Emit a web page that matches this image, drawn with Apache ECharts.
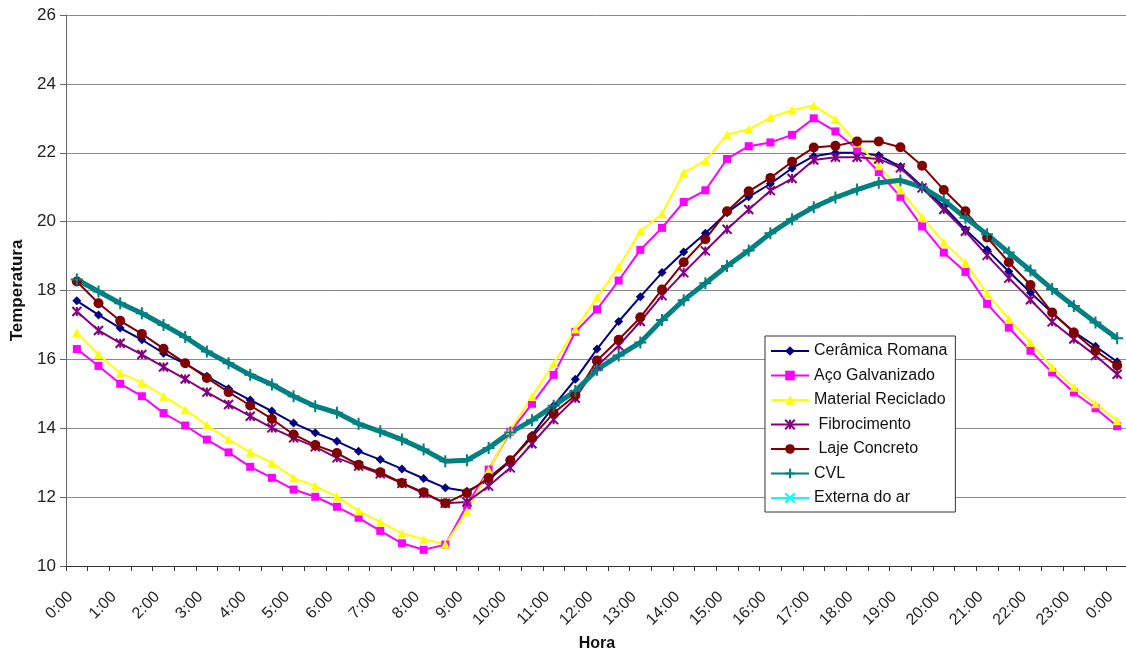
<!DOCTYPE html>
<html>
<head>
<meta charset="utf-8">
<script src="https://cdn.jsdelivr.net/npm/echarts@6/dist/echarts.min.js"></script>
<style>
html,body{margin:0;padding:0;background:#ffffff;}
#chart{width:1126px;height:650px;}
</style>
</head>
<body>
<div id="chart"></div>
<script>
const hours = ["0:00","0:30","1:00","1:30","2:00","2:30","3:00","3:30","4:00","4:30","5:00","5:30",
  "6:00","6:30","7:00","7:30","8:00","8:30","9:00","9:30","10:00","10:30","11:00","11:30",
  "12:00","12:30","13:00","13:30","14:00","14:30","15:00","15:30","16:00","16:30","17:00","17:30",
  "18:00","18:30","19:00","19:30","20:00","20:30","21:00","21:30","22:00","22:30","23:00","23:30","0:00"];

const ceramicaRomana = [17.70,17.29,16.91,16.57,16.18,15.87,15.51,15.15,14.82,14.50,14.15,13.87,
  13.62,13.33,13.09,12.82,12.54,12.27,12.17,12.50,13.05,13.80,14.65,15.42,
  16.30,17.10,17.82,18.52,19.12,19.66,20.26,20.72,21.10,21.55,21.90,22.00,
  22.00,21.92,21.60,21.02,20.44,19.77,19.18,18.55,17.94,17.35,16.80,16.38,15.93];

const acoGalvanizado = [16.30,15.81,15.29,14.93,14.44,14.08,13.67,13.30,12.88,12.56,12.22,12.01,
  11.72,11.40,11.02,10.66,10.47,10.62,11.77,12.80,13.90,14.71,15.55,16.80,
  17.45,18.29,19.18,19.82,20.57,20.91,21.82,22.19,22.30,22.52,23.00,22.62,
  22.10,21.44,20.72,19.86,19.10,18.54,17.61,16.92,16.25,15.62,15.04,14.58,14.06];

const materialReciclado = [16.78,16.14,15.60,15.33,14.93,14.54,14.09,13.67,13.30,13.00,12.56,12.32,
  12.02,11.60,11.28,10.95,10.78,10.63,11.58,12.78,13.95,14.92,15.88,16.88,
  17.80,18.68,19.72,20.23,21.42,21.77,22.53,22.68,23.02,23.24,23.37,22.97,
  22.28,21.62,20.92,20.13,19.40,18.81,17.91,17.17,16.49,15.77,15.19,14.71,14.22];

const fibrocimento = [17.39,16.84,16.47,16.14,15.78,15.43,15.05,14.69,14.35,14.01,13.72,13.46,
  13.14,12.90,12.68,12.40,12.11,11.82,11.86,12.32,12.85,13.55,14.25,14.87,
  15.80,16.40,17.10,17.85,18.52,19.15,19.78,20.35,20.90,21.25,21.79,21.87,
  21.87,21.82,21.56,20.98,20.35,19.72,19.02,18.36,17.73,17.09,16.59,16.11,15.57];

const lajeConcreto = [18.26,17.63,17.12,16.74,16.31,15.89,15.46,15.05,14.66,14.27,13.82,13.51,
  13.28,12.94,12.72,12.41,12.14,11.82,12.12,12.56,13.07,13.74,14.44,14.95,
  15.97,16.57,17.22,18.03,18.82,19.49,20.30,20.88,21.27,21.74,22.15,22.20,
  22.33,22.33,22.16,21.62,20.92,20.30,19.54,18.82,18.16,17.36,16.78,16.25,15.82];

const cvl = [18.32,17.97,17.63,17.34,17.00,16.65,16.23,15.89,15.55,15.27,14.93,14.64,
  14.45,14.13,13.91,13.67,13.38,13.04,13.07,13.43,13.88,14.23,14.65,15.08,
  15.70,16.11,16.49,17.14,17.72,18.21,18.71,19.16,19.66,20.07,20.42,20.70,
  20.93,21.13,21.20,21.00,20.62,20.11,19.63,19.10,18.58,18.04,17.55,17.07,16.61];

const externaDoAr = [];

const seriesNames = ["Cerâmica Romana","Aço Galvanizado","Material Reciclado"," Fibrocimento"," Laje Concreto","CVL","Externa do ar"];

const yTicks = { min: 10, max: 26, step: 2 };

const FONT = "'Liberation Sans', Arial, sans-serif";

const chart = echarts.init(document.getElementById('chart'), null, { renderer: 'canvas' });

function mkSeries(name, data, color, symbol, size, lw, extraItem) {
  return {
    name: name,
    type: 'line',
    data: data,
    symbol: symbol,
    symbolSize: size,
    showSymbol: true,
    showAllSymbol: true,
    lineStyle: { color: color, width: lw },
    itemStyle: Object.assign({ color: color, borderWidth: 0, opacity: 1 }, extraItem || {}),
    emphasis: { disabled: true },
    animation: false
  };
}

const option = {
  backgroundColor: '#ffffff',
  animation: false,
  textStyle: { fontFamily: FONT },
  grid: { left: 66, top: 15, width: 1062, height: 551, containLabel: false, outerBoundsMode: 'none' },
  xAxis: {
    type: 'category',
    data: hours,
    boundaryGap: true,
    name: 'Hora',
    nameLocation: 'middle',
    nameGap: 66,
    nameTextStyle: { fontFamily: FONT, fontSize: 16, fontWeight: 'bold', color: '#111' },
    axisLine: { show: true, lineStyle: { color: '#333', width: 1 } },
    axisTick: { show: true, interval: 0, alignWithLabel: false, length: 5, lineStyle: { color: '#333' } },
    axisLabel: { interval: 1, rotate: 45, margin: 22, padding: [0, 9, 0, 0], fontFamily: FONT, fontSize: 16, color: '#222' },
    splitLine: { show: false }
  },
  yAxis: {
    type: 'value',
    min: yTicks.min,
    max: yTicks.max,
    interval: yTicks.step,
    name: 'Temperatura',
    nameLocation: 'middle',
    nameGap: 40,
    nameRotate: 90,
    nameTextStyle: { fontFamily: FONT, fontSize: 17, fontWeight: 'bold', color: '#111' },
    axisLine: { show: true, lineStyle: { color: '#666', width: 1 } },
    axisTick: { show: true, length: 6, inside: false, lineStyle: { color: '#666' } },
    axisLabel: { margin: 10, fontFamily: FONT, fontSize: 17, color: '#222' },
    splitLine: { show: true, lineStyle: { color: '#8c8c8c', width: 1 } }
  },
  legend: {
    orient: 'vertical',
    left: 765,
    top: 336,
    padding: [7, 8, 6, 5],
    itemWidth: 38,
    itemHeight: 12,
    itemGap: 8.5,
    selectedMode: false,
    borderColor: '#333',
    borderWidth: 1,
    backgroundColor: '#ffffff',
    textStyle: { fontFamily: FONT, fontSize: 16, color: '#111', lineHeight: 16 },
    data: seriesNames
  },
  series: [
    mkSeries(seriesNames[0], ceramicaRomana, '#000080', 'diamond', 9, 2),
    mkSeries(seriesNames[1], acoGalvanizado, '#FF00FF', 'rect', 8, 2),
    mkSeries(seriesNames[2], materialReciclado, '#FFFF00', 'triangle', 9, 2),
    mkSeries(seriesNames[3], fibrocimento, '#800080', 'path://M0,0L10,10M10,0L0,10M5,0L5,10', 9, 2,
      { borderColor: '#800080', borderWidth: 2 }),
    mkSeries(seriesNames[4], lajeConcreto, '#800000', 'circle', 10, 2),
    mkSeries(seriesNames[5], cvl, '#008080', 'path://M5,0L5,10M0,5L10,5', 12, 5,
      { borderColor: '#008080', borderWidth: 2 }),
    mkSeries(seriesNames[6], externaDoAr, '#00FFFF', 'path://M0,0L10,10M10,0L0,10', 8, 2,
      { borderColor: '#00FFFF', borderWidth: 2 })
  ]
};

chart.setOption(option);
</script>
</body>
</html>
